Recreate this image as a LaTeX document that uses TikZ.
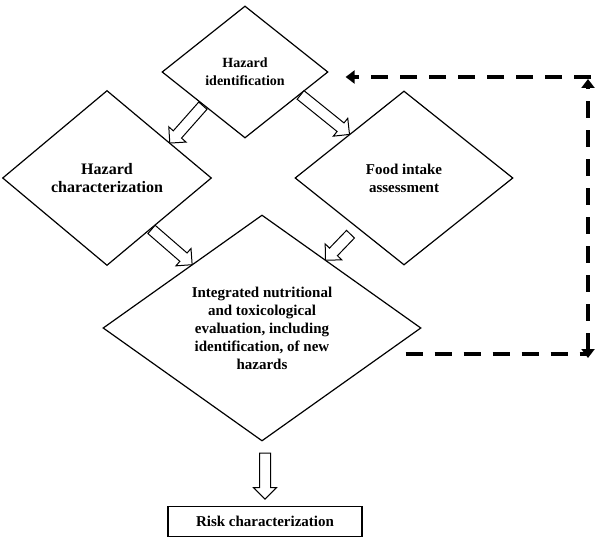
\documentclass[tikz,border=0pt]{standalone}
\usepackage{fontspec}
\setmainfont{Liberation Serif}
\usetikzlibrary{shapes.geometric,shapes.arrows,arrows.meta,calc,positioning}

\tikzset{
  stage/.style={diamond, draw, line width=1.2pt, inner sep=0pt, align=center},
  flowarrow/.style={single arrow, draw, line width=1pt, fill=white, inner sep=5pt,
    single arrow head extend=6pt, single arrow head indent=0pt},
  feedback/.style={line width=4.5pt, dash pattern=on 17pt off 12pt},
  fbtip/.style={-{Triangle[length=9pt,width=13pt]}},
}

% hollow block arrow from #1 to #2
\newcommand{\blockarrow}[2]{%
  \path let \p1=($(#2)-(#1)$), \n1={atan2(\y1,\x1)}, \n2={veclen(\x1,\y1)} in
    node[flowarrow, anchor=tail, rotate=\n1, minimum height=\n2] at (#1) {};}

\begin{document}
\begin{tikzpicture}[x=1pt,y=-1pt]
  \useasboundingbox (0,0) rectangle (599,545);

  % Stages
  \node[stage, aspect=1.26, minimum width=166pt, minimum height=132pt,
    font=\bfseries\fontsize{14}{18}\selectfont] (hid) at (245,72) {Hazard\\identification};
  \node[stage, aspect=1.19, minimum width=209pt, minimum height=175pt,
    font=\bfseries\fontsize{16}{18}\selectfont] (hchar) at (107,178) {Hazard\\characterization};
  \node[stage, aspect=1.25, minimum width=218pt, minimum height=174pt,
    font=\bfseries\fontsize{15}{18}\selectfont] (hfood) at (404,178) {Food intake\\assessment};
  \node[stage, aspect=1.4, minimum width=318pt, minimum height=226pt,
    font=\bfseries\fontsize{15}{18}\selectfont] (integ) at (262,328)
    {Integrated nutritional\\and toxicological\\evaluation, including\\identification, of new\\hazards};
  \node[draw, line width=1.2pt, minimum width=194pt, minimum height=30pt,
    font=\bfseries\fontsize{15}{18}\selectfont, below=64pt of integ, xshift=3pt] (risk) {Risk characterization};

  % Block arrows
  \coordinate (a1s) at (hid.south west);
  \coordinate (a1e) at ($(hchar.north)!0.6!(hchar.east)$);
  \coordinate (a2s) at ($(hid.south)!0.66!(hid.east)$);
  \coordinate (a2e) at (hfood.north west);
  \coordinate (a3s) at ($(hchar.south)!0.42!(hchar.east)$);
  \coordinate (a3e) at ($(integ.west)!0.56!(integ.north)$);
  \coordinate (a4e) at ($(integ.north)!0.4!(integ.east)$);
  \coordinate (a4s) at ([shift={(25,-26)}]a4e);
  \coordinate (a5s) at ([shift={(3,11)}]integ.south);
  \coordinate (a5e) at ([yshift=7pt]risk.north);
  \blockarrow{a1s}{a1e}
  \blockarrow{a2s}{a2e}
  \blockarrow{a3s}{a3e}
  \blockarrow{a4s}{a4e}
  \blockarrow{a5s}{a5e}

  % Feedback loop
  \coordinate (fbstart) at ([shift={(-16,26)}]integ.east);
  \coordinate (fbbottom) at (588,358);
  \coordinate (fbtop) at (588,79);
  \coordinate (fbend) at ([shift={(17,5)}]hid.east);
  \draw[feedback] (fbstart) -- (fbstart -| fbbottom);
  \draw[feedback, {Triangle[length=9pt,width=13pt]}-{Triangle[length=9pt,width=13pt]}]
    (fbbottom) -- (fbtop);
  \draw[feedback, fbtip] ([xshift=3pt]fbend -| fbtop) -- (fbend);

\end{tikzpicture}
\end{document}
